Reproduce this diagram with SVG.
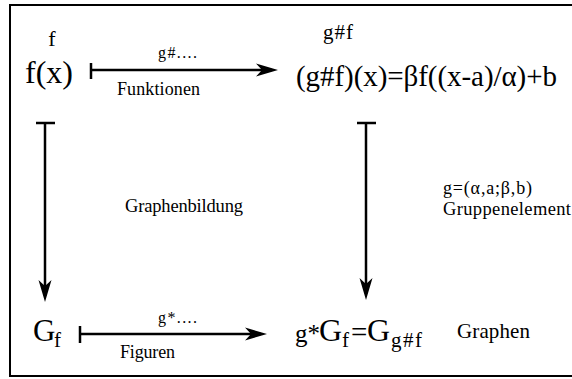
<svg xmlns="http://www.w3.org/2000/svg" width="572" height="379" viewBox="0 0 572 379">
<style>
text{font-family:"Liberation Serif","Times New Roman",serif;fill:#000}
.ln{stroke:#000;stroke-width:2.5;fill:none}
.bar{stroke:#000;stroke-width:2.5}
.head{fill:#000}
</style>
<defs>
<path id="ah" d="M0,0 L-22,-6.5 L-16,0 L-22,6.5 Z"/>
</defs>
<rect x="10" y="5" width="570" height="371" fill="#fff" stroke="#000" stroke-width="2"/>
<g id="node-fx">
<text x="52" y="46" font-size="22" text-anchor="middle">f</text>
<text x="25" y="83" font-size="32" textLength="48">f(x)</text>
</g>
<g id="node-gfx">
<text x="323" y="39" font-size="21" textLength="30">g#f</text>
<text x="296" y="86" font-size="29" textLength="261">(g#f)(x)=βf((x-a)/α)+b</text>
</g>
<g id="node-Gf">
<text x="33" y="341" font-size="31">G</text>
<text x="54" y="347" font-size="21">f</text>
</g>
<g id="node-gGf">
<text x="295" y="342" font-size="25">g*</text>
<text x="319" y="341" font-size="32">G</text>
<text x="342" y="347" font-size="21">f</text>
<text x="351" y="342" font-size="29" textLength="16">=</text>
<text x="367" y="341" font-size="32">G</text>
<text x="391" y="347" font-size="21" textLength="31">g#f</text>
</g>
<g id="node-graphen">
<text x="457" y="338" font-size="21" textLength="73">Graphen</text>
</g>
<g id="connectors">
<line class="ln" x1="91" y1="70" x2="272" y2="70"/>
<line class="bar" x1="91" y1="63" x2="91" y2="79"/>
<use href="#ah" class="head" transform="translate(278,70)"/>
<line class="ln" x1="80" y1="334" x2="261" y2="334"/>
<line class="bar" x1="80" y1="326" x2="80" y2="343"/>
<use href="#ah" class="head" transform="translate(267,334)"/>
<line class="ln" x1="45" y1="123" x2="45" y2="296"/>
<line class="bar" x1="36" y1="123" x2="55" y2="123"/>
<use href="#ah" class="head" transform="translate(45,302) rotate(90)"/>
<line class="ln" x1="366" y1="123" x2="366" y2="294"/>
<line class="bar" x1="357" y1="123" x2="376" y2="123"/>
<use href="#ah" class="head" transform="translate(366,300) rotate(90)"/>
</g>
<g id="labels">
<text x="158" y="58" font-size="16" textLength="39">g#....</text>
<text x="117" y="95" font-size="18" textLength="83">Funktionen</text>
<text x="158" y="323" font-size="16" textLength="39">g*....</text>
<text x="120" y="358" font-size="18" textLength="55">Figuren</text>
<text x="125" y="212" font-size="18.5" textLength="118">Graphenbildung</text>
<text x="443" y="194" font-size="18" textLength="89">g=(α,a;β,b)</text>
<text x="443" y="215" font-size="18.5" textLength="128">Gruppenelement</text>
</g>
</svg>
